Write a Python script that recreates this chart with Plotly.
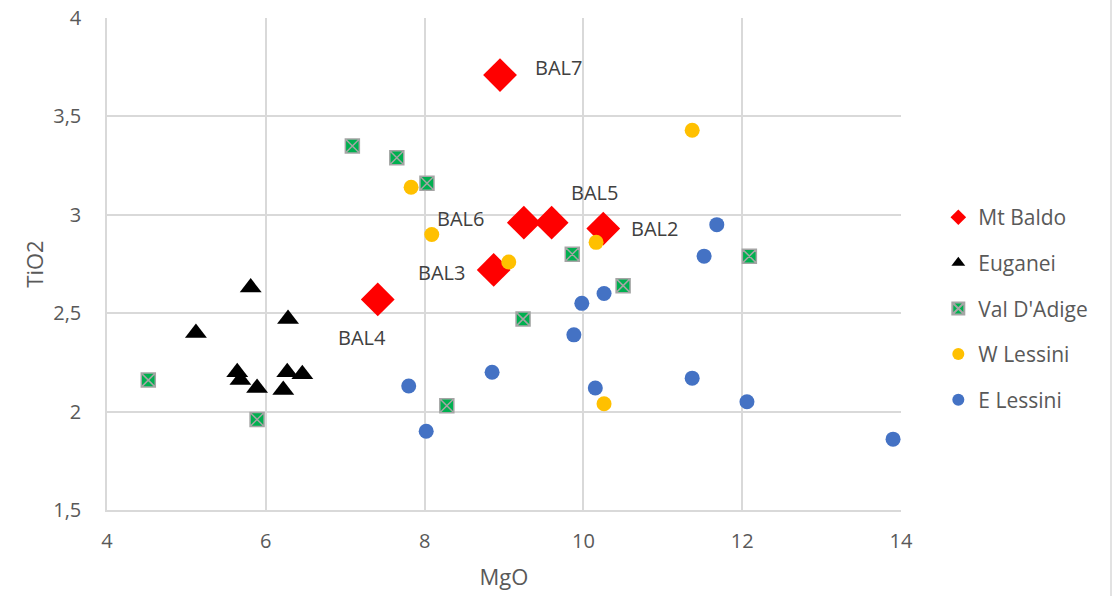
import plotly.graph_objects as go

# MgO / TiO2 compositions by locality
baldo_mgo = [8.95, 9.25, 9.60, 10.25, 8.87, 7.41]
baldo_tio2 = [3.71, 2.96, 2.96, 2.93, 2.72, 2.57]
baldo_names = ["BAL7", "BAL6", "BAL5", "BAL2", "BAL3", "BAL4"]

euganei_mgo = [5.81, 5.12, 6.28, 5.64, 5.68, 5.89, 6.27, 6.22, 6.46]
euganei_tio2 = [2.63, 2.40, 2.47, 2.20, 2.16, 2.12, 2.20, 2.11, 2.19]

adige_mgo = [7.09, 7.65, 8.03, 4.52, 5.89, 9.86, 9.24, 10.50, 8.28, 12.09]
adige_tio2 = [3.35, 3.29, 3.16, 2.16, 1.96, 2.80, 2.47, 2.64, 2.03, 2.79]

wless_mgo = [7.83, 8.09, 9.06, 10.16, 11.37, 10.26]
wless_tio2 = [3.14, 2.90, 2.76, 2.86, 3.43, 2.04]

eless_mgo = [11.68, 11.52, 10.26, 9.98, 9.88, 8.85, 7.80, 10.15, 11.37, 8.02, 12.06, 13.90]
eless_tio2 = [2.95, 2.79, 2.60, 2.55, 2.39, 2.20, 2.13, 2.12, 2.17, 1.90, 2.05, 1.86]

x_ticks = [4, 6, 8, 10, 12, 14]
x_labels = ["4", "6", "8", "10", "12", "14"]
y_ticks = [1.5, 2, 2.5, 3, 3.5, 4]
y_labels = ["1,5", "2", "2,5", "3", "3,5", "4"]

FONT = "'Open Sans', Lato, sans-serif"
GRID = "#D9D9D9"
TEXT = "#595959"

fig = go.Figure()

fig.add_trace(go.Scatter(
    x=baldo_mgo, y=baldo_tio2, mode="markers", name="Mt Baldo", legendgroup="a",
    marker=dict(symbol="diamond", size=26, color="#FF0000", line=dict(width=0)),
))
fig.add_trace(go.Scatter(
    x=euganei_mgo, y=euganei_tio2, mode="markers", name="Euganei", legendgroup="b",
    marker=dict(symbol="triangle-up", size=19, color="#000000", line=dict(width=0)),
))
fig.add_trace(go.Scatter(
    x=adige_mgo, y=adige_tio2, mode="markers", name="Val D'Adige", legendgroup="c",
    marker=dict(symbol="square-x", size=14, color="#00B050",
                line=dict(width=1.5, color="#A5A5A5")),
))
fig.add_trace(go.Scatter(
    x=wless_mgo, y=wless_tio2, mode="markers", name="W Lessini", legendgroup="d",
    marker=dict(symbol="circle", size=15, color="#FFC000", line=dict(width=0)),
))
fig.add_trace(go.Scatter(
    x=eless_mgo, y=eless_tio2, mode="markers", name="E Lessini", legendgroup="e",
    marker=dict(symbol="circle", size=15, color="#4472C4", line=dict(width=0)),
))

# sample labels beside the Mt Baldo points
label_shift = {
    "BAL7": (58, 8),
    "BAL6": (-63, 4),
    "BAL5": (43, 30),
    "BAL2": (51, 0),
    "BAL3": (-52, -3),
    "BAL4": (-16, -38),
}
for name, xv, yv in zip(baldo_names, baldo_mgo, baldo_tio2):
    dx, dy = label_shift[name]
    fig.add_annotation(x=xv, y=yv, text=name, showarrow=False,
                       xshift=dx, yshift=dy,
                       font=dict(family=FONT, size=20, color="#404040"))

# outer chart border on the right
fig.add_shape(type="line", xref="paper", yref="paper",
              x0=(1111 - 107) / 794, x1=(1111 - 107) / 794, y0=-0.2, y1=1.05,
              line=dict(color=GRID, width=1.5))

fig.update_layout(
    width=1117, height=596,
    margin=dict(l=107, r=216, t=18, b=86),
    paper_bgcolor="white", plot_bgcolor="white",
    font=dict(family=FONT, size=20, color=TEXT),
    showlegend=True,
    legend=dict(x=1.047, xanchor="left", y=0.636, yanchor="top",
                font=dict(family=FONT, size=21, color=TEXT),
                itemsizing="constant", tracegroupgap=15.3,
                bgcolor="rgba(0,0,0,0)"),
    xaxis=dict(range=[4, 14], tickvals=x_ticks, ticktext=x_labels,
               showgrid=True, gridcolor=GRID, gridwidth=1.5,
               showline=True, linecolor=GRID, linewidth=1.5,
               zeroline=False, ticks="", ticklabelstandoff=12, automargin=False,
               tickfont=dict(family=FONT, size=20, color=TEXT),
               title=dict(text="MgO", font=dict(family=FONT, size=22, color=TEXT), standoff=17)),
    yaxis=dict(range=[1.5, 4], tickvals=y_ticks, ticktext=y_labels,
               showgrid=True, gridcolor=GRID, gridwidth=1.5,
               showline=True, linecolor=GRID, linewidth=1.5,
               zeroline=False, ticks="", ticklabelstandoff=20, automargin=False,
               tickfont=dict(family=FONT, size=20, color=TEXT),
               title=dict(text="TiO2", font=dict(family=FONT, size=22, color=TEXT), standoff=4)),
)

fig.write_html("out.html")
